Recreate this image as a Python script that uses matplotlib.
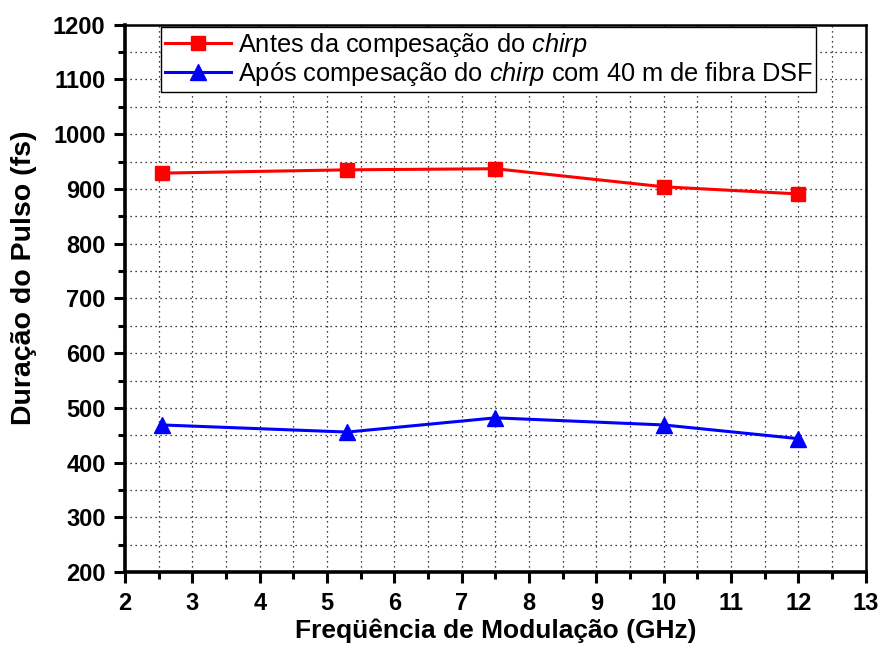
import matplotlib
matplotlib.use('Agg')
import matplotlib.pyplot as plt
from matplotlib.ticker import MultipleLocator

plt.rcParams['font.family'] = ['Liberation Sans', 'DejaVu Sans']
plt.rcParams['mathtext.fontset'] = 'custom'
plt.rcParams['mathtext.it'] = 'Liberation Sans:italic'
plt.rcParams['mathtext.rm'] = 'Liberation Sans'

freq = [2.55, 5.3, 7.5, 10.0, 12.0]
antes = [929, 935, 937, 904, 891]
apos = [469, 456, 482, 469, 444]

label_antes = 'Antes da compesação do $\\it{chirp}$'
label_apos = 'Após compesação do $\\it{chirp}$ com 40 m de fibra DSF'

fig = plt.figure(figsize=(8.87, 6.51), dpi=100)
ax = fig.add_axes([0.141, 0.121, 0.835, 0.841])

ax.plot(freq, antes, color='#ff0000', marker='s', markersize=9.5, linewidth=2.2,
        label=label_antes)
ax.plot(freq, apos, color='#0000ff', marker='^', markersize=11, linewidth=2.2,
        label=label_apos)

ax.set_xlim(2, 13)
ax.set_ylim(200, 1200)
ax.xaxis.set_major_locator(MultipleLocator(1))
ax.xaxis.set_minor_locator(MultipleLocator(0.5))
ax.yaxis.set_major_locator(MultipleLocator(100))
ax.yaxis.set_minor_locator(MultipleLocator(50))

ax.grid(which='both', linestyle=(0, (1, 3)), color='black', linewidth=0.9)
ax.set_axisbelow(True)

ax.tick_params(which='major', direction='out', length=8, width=2.2,
               labelsize=17, pad=6, top=False, right=False)
ax.tick_params(which='minor', direction='out', length=5, width=2.2,
               top=False, right=False)
for lab in ax.get_xticklabels() + ax.get_yticklabels():
    lab.set_fontweight('bold')

for side in ['left', 'bottom']:
    ax.spines[side].set_linewidth(2.6)
for side in ['top', 'right']:
    ax.spines[side].set_linewidth(1.8)

ax.set_xlabel('Freqüência de Modulação (GHz)', fontsize=19, fontweight='bold',
              labelpad=3)
ax.set_ylabel('Duração do Pulso (fs)', fontsize=20.5, fontweight='bold')
ax.yaxis.set_label_coords(-0.119, 0.537)

leg = ax.legend(loc='upper left', bbox_to_anchor=(0.049, 0.996), borderaxespad=0,
                fontsize=18.3, fancybox=False, framealpha=1, edgecolor='black',
                handlelength=2.6, borderpad=0.15, labelspacing=0.05,
                handletextpad=0.25)
leg.get_frame().set_linewidth(1.0)

fig.savefig('out.png', dpi=100)
